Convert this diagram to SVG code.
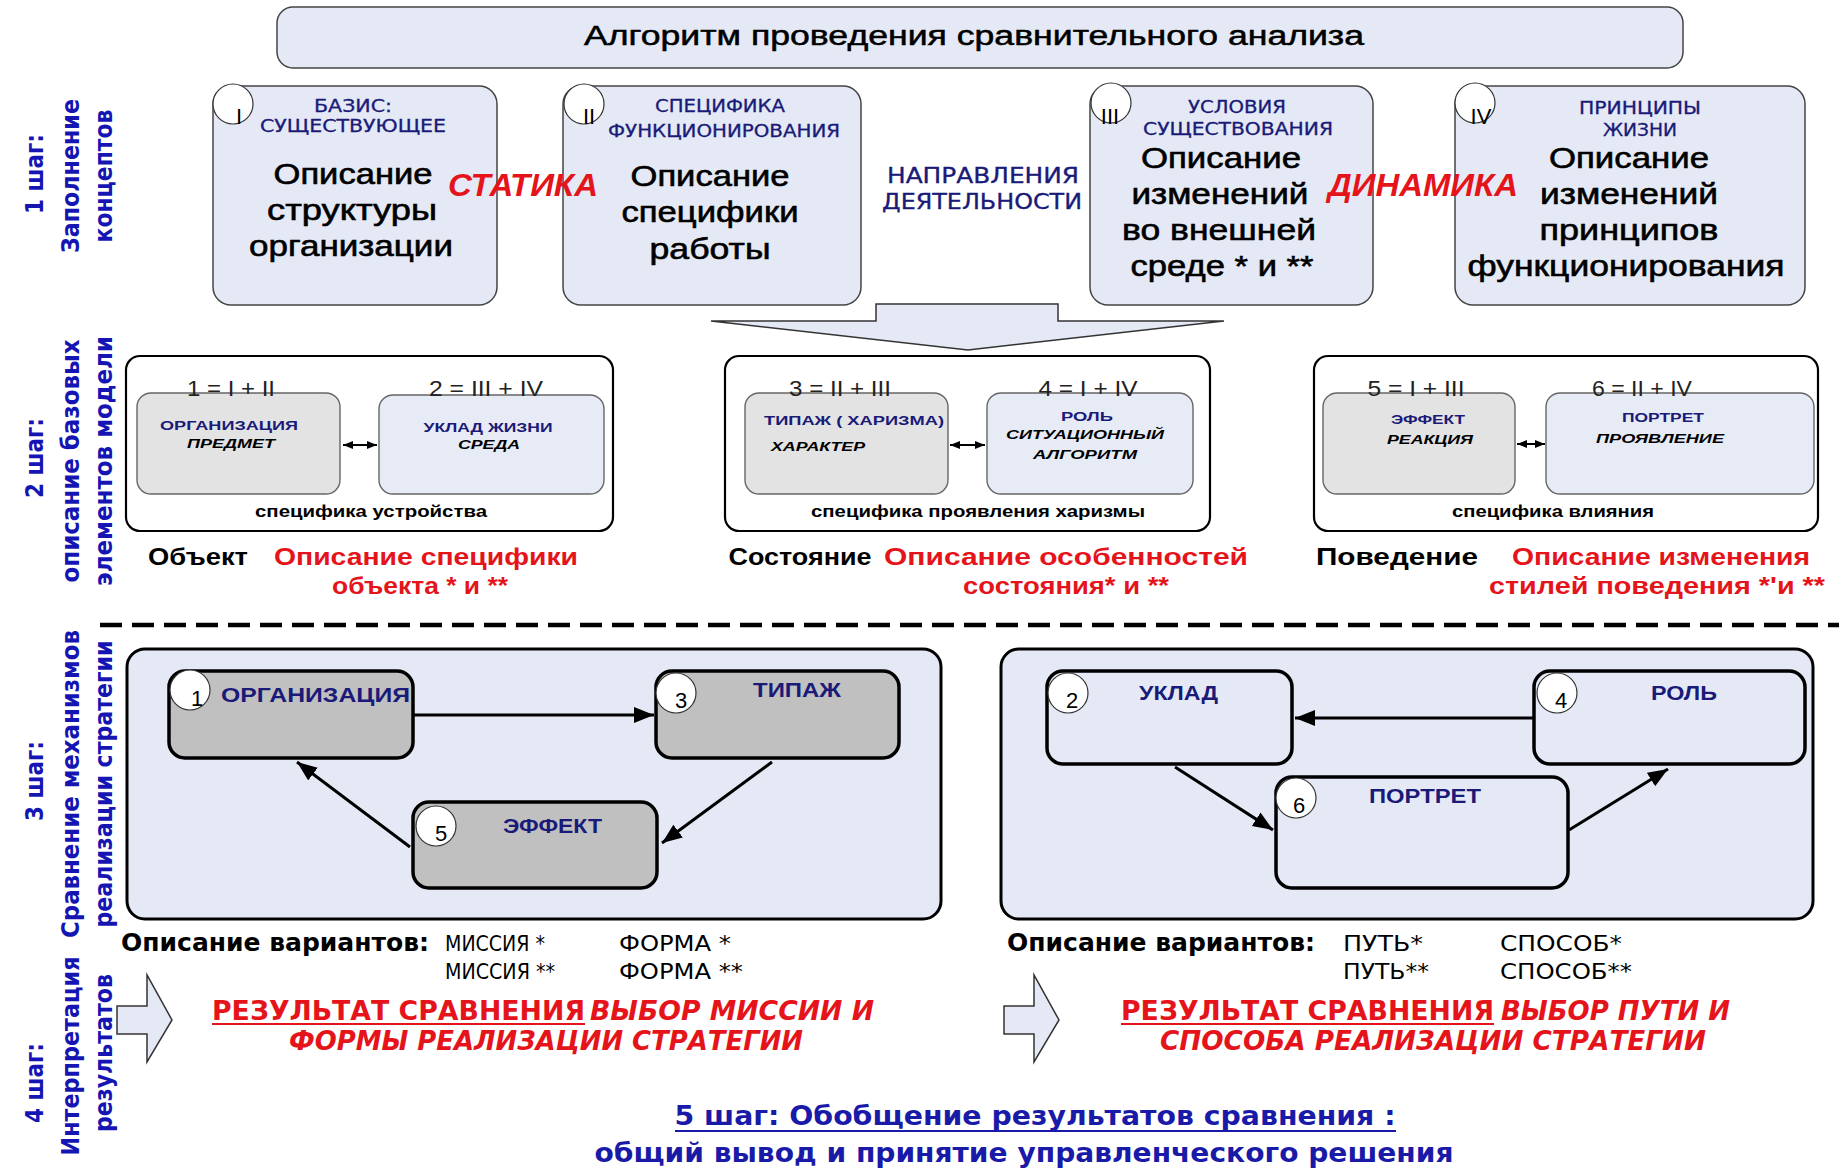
<svg xmlns="http://www.w3.org/2000/svg" width="1839" height="1168" viewBox="0 0 1839 1168">
<style>
  .sans { font-family: "Liberation Sans", Arial, sans-serif; }
  .narrow { font-family: "Liberation Sans Narrow", "Arial Narrow", "DejaVu Sans Condensed", sans-serif; }
  .panel { fill: #e4e9f5; stroke: #444; stroke-width: 1.5; }
  .frame { fill: #fff; stroke: #000; stroke-width: 2.2; }
  .gbox { fill: #e3e3e3; stroke: #666; stroke-width: 1.4; }
  .bbox { fill: #e6ebf6; stroke: #666; stroke-width: 1.4; }
  .bigframe { fill: #e4e9f5; stroke: #000; stroke-width: 3; }
  .gnode { fill: #c0c0c0; stroke: #000; stroke-width: 3.5; }
  .bnode { fill: #e4e9f5; stroke: #000; stroke-width: 3.5; }
  .badge { fill: #fff; stroke: #333; stroke-width: 1.2; }
  .ttl { font-size: 27px; fill: #000; stroke: #000; stroke-width: 0.5; }
  .hdr { font-size: 18px; fill: #1a1a78; stroke: #1a1a78; stroke-width: 0.3; }
  .body { font-size: 30px; fill: #000; stroke: #000; stroke-width: 0.6; }
  .accent { font-size: 31px; font-weight: bold; font-style: italic; fill: #e5141b; }
  .dir { font-size: 21px; fill: #1a1a78; stroke: #1a1a78; stroke-width: 0.3; }
  .roman { font-size: 22px; fill: #000; }
  .formula { font-size: 22px; fill: #222; }
  .btitle { font-size: 13px; font-weight: bold; fill: #1a1a78; }
  .bsub { font-size: 13px; font-weight: bold; font-style: italic; fill: #000; }
  .spec { font-size: 16px; font-weight: bold; fill: #000; }
  .kind { font-size: 24px; font-weight: bold; fill: #000; }
  .kdesc { font-size: 24px; font-weight: bold; fill: #e5141b; }
  .ntext { font-size: 20px; font-weight: bold; fill: #1a1a78; }
  .num { font-size: 22px; fill: #000; }
  .var { font-size: 24px; font-weight: bold; fill: #000; }
  .varv { font-size: 21px; fill: #000; }
  .res { font-size: 26px; font-weight: bold; fill: #e5141b; }
  .resi { font-size: 26px; font-weight: bold; font-style: italic; fill: #e5141b; }
  .step { font-size: 24px; font-weight: bold; fill: #1515b4; }
  .s5 { font-size: 26px; font-weight: bold; fill: #1a1aa8; }
  .edge { stroke: #000; stroke-width: 3; fill: none; }
  .link { stroke: #000; stroke-width: 2; fill: none; }
  .blockarrow { fill: #e4e9f5; stroke: #333; stroke-width: 1.5; }
</style>
<defs>
  <marker id="head" markerUnits="userSpaceOnUse" markerWidth="22" markerHeight="18" refX="20" refY="8" orient="auto">
    <path d="M0,0 L20,8 L0,16 z" fill="#000"/>
  </marker>
  <marker id="tip" markerUnits="userSpaceOnUse" markerWidth="12" markerHeight="10" refX="10" refY="4" orient="auto-start-reverse">
    <path d="M0,0 L10,4 L0,8 z" fill="#000"/>
  </marker>
</defs>

<rect width="1839" height="1168" fill="#fff"/>

<!-- side labels for the steps -->
<g id="step-labels" class="narrow">
  <text class="step" transform="rotate(-90 43 174)" x="43" y="174" text-anchor="middle">1 шаг:</text>
  <text class="step" transform="rotate(-90 79 176)" x="79" y="176" text-anchor="middle" textLength="154" lengthAdjust="spacingAndGlyphs">Заполнение</text>
  <text class="step" transform="rotate(-90 112 176)" x="112" y="176" text-anchor="middle" textLength="133" lengthAdjust="spacingAndGlyphs">концептов</text>

  <text class="step" transform="rotate(-90 43 458)" x="43" y="458" text-anchor="middle">2 шаг:</text>
  <text class="step" transform="rotate(-90 79 461)" x="79" y="461" text-anchor="middle" textLength="243" lengthAdjust="spacingAndGlyphs">описание базовых</text>
  <text class="step" transform="rotate(-90 112 461)" x="112" y="461" text-anchor="middle" textLength="250" lengthAdjust="spacingAndGlyphs">элементов модели</text>

  <text class="step" transform="rotate(-90 43 781)" x="43" y="781" text-anchor="middle">3 шаг:</text>
  <text class="step" transform="rotate(-90 79 784)" x="79" y="784" text-anchor="middle" textLength="308" lengthAdjust="spacingAndGlyphs">Сравнение механизмов</text>
  <text class="step" transform="rotate(-90 112 784)" x="112" y="784" text-anchor="middle" textLength="287" lengthAdjust="spacingAndGlyphs">реализации стратегии</text>

  <text class="step" transform="rotate(-90 43 1083)" x="43" y="1083" text-anchor="middle">4 шаг:</text>
  <text class="step" transform="rotate(-90 79 1056)" x="79" y="1056" text-anchor="middle" textLength="199" lengthAdjust="spacingAndGlyphs">Интерпретация</text>
  <text class="step" transform="rotate(-90 112 1053)" x="112" y="1053" text-anchor="middle" textLength="158" lengthAdjust="spacingAndGlyphs">результатов</text>
</g>

<!-- heading -->
<g id="title">
  <rect class="panel" x="277" y="7" width="1406" height="61" rx="16"/>
  <text class="sans ttl" x="974" y="45" text-anchor="middle" textLength="780" lengthAdjust="spacingAndGlyphs">Алгоритм проведения сравнительного анализа</text>
</g>

<!-- step 1: four concepts -->
<g id="concept-1">
  <rect class="panel" x="213" y="86" width="284" height="219" rx="18"/>
  <circle class="badge" cx="233" cy="104" r="20"/>
  <text class="sans roman" x="239" y="124" text-anchor="middle">I</text>
  <text class="narrow hdr" x="353" y="112" text-anchor="middle" textLength="78" lengthAdjust="spacingAndGlyphs">БАЗИС:</text>
  <text class="narrow hdr" x="353" y="132" text-anchor="middle" textLength="186" lengthAdjust="spacingAndGlyphs">СУЩЕСТВУЮЩЕЕ</text>
  <text class="sans body" x="353" y="184" text-anchor="middle" textLength="159" lengthAdjust="spacingAndGlyphs">Описание</text>
  <text class="sans body" x="352" y="220" text-anchor="middle" textLength="170" lengthAdjust="spacingAndGlyphs">структуры</text>
  <text class="sans body" x="351" y="256" text-anchor="middle" textLength="204" lengthAdjust="spacingAndGlyphs">организации</text>
</g>
<g id="concept-2">
  <rect class="panel" x="563" y="86" width="298" height="219" rx="18"/>
  <circle class="badge" cx="584" cy="104" r="20"/>
  <text class="sans roman" x="589" y="124" text-anchor="middle">II</text>
  <text class="narrow hdr" x="720" y="112" text-anchor="middle" textLength="130" lengthAdjust="spacingAndGlyphs">СПЕЦИФИКА</text>
  <text class="narrow hdr" x="724" y="137" text-anchor="middle" textLength="232" lengthAdjust="spacingAndGlyphs">ФУНКЦИОНИРОВАНИЯ</text>
  <text class="sans body" x="710" y="186" text-anchor="middle" textLength="159" lengthAdjust="spacingAndGlyphs">Описание</text>
  <text class="sans body" x="710" y="222" text-anchor="middle" textLength="177" lengthAdjust="spacingAndGlyphs">специфики</text>
  <text class="sans body" x="710" y="259" text-anchor="middle" textLength="121" lengthAdjust="spacingAndGlyphs">работы</text>
</g>
<g id="concept-3">
  <rect class="panel" x="1090" y="86" width="283" height="219" rx="18"/>
  <circle class="badge" cx="1111" cy="103" r="20"/>
  <text class="sans roman" x="1110" y="124" text-anchor="middle">III</text>
  <text class="narrow hdr" x="1237" y="113" text-anchor="middle" textLength="98" lengthAdjust="spacingAndGlyphs">УСЛОВИЯ</text>
  <text class="narrow hdr" x="1238" y="135" text-anchor="middle" textLength="190" lengthAdjust="spacingAndGlyphs">СУЩЕСТВОВАНИЯ</text>
  <text class="sans body" x="1221" y="168" text-anchor="middle" textLength="160" lengthAdjust="spacingAndGlyphs">Описание</text>
  <text class="sans body" x="1220" y="204" text-anchor="middle" textLength="177" lengthAdjust="spacingAndGlyphs">изменений</text>
  <text class="sans body" x="1219" y="240" text-anchor="middle" textLength="194" lengthAdjust="spacingAndGlyphs">во внешней</text>
  <text class="sans body" x="1222" y="276" text-anchor="middle" textLength="183" lengthAdjust="spacingAndGlyphs">среде * и **</text>
</g>
<g id="concept-4">
  <rect class="panel" x="1455" y="86" width="350" height="219" rx="18"/>
  <circle class="badge" cx="1475" cy="103" r="20"/>
  <text class="sans roman" x="1481" y="124" text-anchor="middle">IV</text>
  <text class="narrow hdr" x="1640" y="114" text-anchor="middle" textLength="122" lengthAdjust="spacingAndGlyphs">ПРИНЦИПЫ</text>
  <text class="narrow hdr" x="1640" y="136" text-anchor="middle" textLength="74" lengthAdjust="spacingAndGlyphs">ЖИЗНИ</text>
  <text class="sans body" x="1629" y="168" text-anchor="middle" textLength="160" lengthAdjust="spacingAndGlyphs">Описание</text>
  <text class="sans body" x="1629" y="204" text-anchor="middle" textLength="178" lengthAdjust="spacingAndGlyphs">изменений</text>
  <text class="sans body" x="1629" y="240" text-anchor="middle" textLength="179" lengthAdjust="spacingAndGlyphs">принципов</text>
  <text class="sans body" x="1626" y="276" text-anchor="middle" textLength="317" lengthAdjust="spacingAndGlyphs">функционирования</text>
</g>

<g id="step1-captions">
  <text class="sans accent" x="523" y="196" text-anchor="middle" textLength="150" lengthAdjust="spacingAndGlyphs">СТАТИКА</text>
  <text class="sans accent" x="1423" y="196" text-anchor="middle" textLength="190" lengthAdjust="spacingAndGlyphs">ДИНАМИКА</text>
  <text class="narrow dir" x="983" y="183" text-anchor="middle" textLength="192" lengthAdjust="spacingAndGlyphs">НАПРАВЛЕНИЯ</text>
  <text class="narrow dir" x="982" y="209" text-anchor="middle" textLength="200" lengthAdjust="spacingAndGlyphs">ДЕЯТЕЛЬНОСТИ</text>
</g>

<!-- wide arrow from the concepts down to the model -->
<g id="down-arrow">
  <path class="blockarrow" d="M711,321 L876,321 L876,304 L1058,304 L1058,321 L1224,321 L968,350 Z"/>
</g>

<!-- step 2: base elements of the model -->
<g id="element-object">
  <rect class="frame" x="126" y="356" width="487" height="175" rx="14"/>
  <rect class="gbox" x="137" y="393" width="203" height="101" rx="14"/>
  <rect class="bbox" x="379" y="395" width="225" height="99" rx="14"/>
  <text class="sans formula" x="231" y="396" text-anchor="middle" textLength="88" lengthAdjust="spacingAndGlyphs">1 = I + II</text>
  <text class="sans formula" x="486" y="396" text-anchor="middle" textLength="114" lengthAdjust="spacingAndGlyphs">2 = III + IV</text>
  <text class="sans btitle" x="229" y="430" text-anchor="middle" textLength="138" lengthAdjust="spacingAndGlyphs">ОРГАНИЗАЦИЯ</text>
  <text class="sans bsub" x="231" y="448" text-anchor="middle" textLength="88" lengthAdjust="spacingAndGlyphs">ПРЕДМЕТ</text>
  <text class="sans btitle" x="488" y="432" text-anchor="middle" textLength="129" lengthAdjust="spacingAndGlyphs">УКЛАД ЖИЗНИ</text>
  <text class="sans bsub" x="489" y="449" text-anchor="middle" textLength="62" lengthAdjust="spacingAndGlyphs">СРЕДА</text>
  <text class="sans spec" x="371" y="517" text-anchor="middle" textLength="232" lengthAdjust="spacingAndGlyphs">специфика устройства</text>
  <text class="sans kind" x="198" y="565" text-anchor="middle" textLength="100" lengthAdjust="spacingAndGlyphs">Объект</text>
  <text class="sans kdesc" x="426" y="565" text-anchor="middle" textLength="304" lengthAdjust="spacingAndGlyphs">Описание специфики</text>
  <text class="sans kdesc" x="420" y="594" text-anchor="middle" textLength="176" lengthAdjust="spacingAndGlyphs">объекта * и **</text>
</g>
<g id="element-state">
  <rect class="frame" x="725" y="356" width="485" height="175" rx="14"/>
  <rect class="gbox" x="745" y="393" width="203" height="101" rx="14"/>
  <rect class="bbox" x="987" y="393" width="206" height="101" rx="14"/>
  <text class="sans formula" x="840" y="396" text-anchor="middle" textLength="102" lengthAdjust="spacingAndGlyphs">3 = II + III</text>
  <text class="sans formula" x="1088" y="396" text-anchor="middle" textLength="99" lengthAdjust="spacingAndGlyphs">4 = I + IV</text>
  <text class="sans btitle" x="764" y="425" textLength="180" lengthAdjust="spacingAndGlyphs">ТИПАЖ ( ХАРИЗМА)</text>
  <text class="sans bsub" x="771" y="451" textLength="94" lengthAdjust="spacingAndGlyphs">ХАРАКТЕР</text>
  <text class="sans btitle" x="1087" y="421" text-anchor="middle" textLength="52" lengthAdjust="spacingAndGlyphs">РОЛЬ</text>
  <text class="sans bsub" x="1085" y="439" text-anchor="middle" textLength="158" lengthAdjust="spacingAndGlyphs">СИТУАЦИОННЫЙ</text>
  <text class="sans bsub" x="1085" y="459" text-anchor="middle" textLength="104" lengthAdjust="spacingAndGlyphs">АЛГОРИТМ</text>
  <text class="sans spec" x="978" y="517" text-anchor="middle" textLength="334" lengthAdjust="spacingAndGlyphs">специфика проявления харизмы</text>
  <text class="sans kind" x="800" y="565" text-anchor="middle" textLength="143" lengthAdjust="spacingAndGlyphs">Состояние</text>
  <text class="sans kdesc" x="1066" y="565" text-anchor="middle" textLength="364" lengthAdjust="spacingAndGlyphs">Описание особенностей</text>
  <text class="sans kdesc" x="1066" y="594" text-anchor="middle" textLength="206" lengthAdjust="spacingAndGlyphs">состояния* и **</text>
</g>
<g id="element-behaviour">
  <rect class="frame" x="1314" y="356" width="504" height="175" rx="14"/>
  <rect class="gbox" x="1323" y="393" width="192" height="101" rx="14"/>
  <rect class="bbox" x="1546" y="393" width="268" height="101" rx="14"/>
  <text class="sans formula" x="1416" y="396" text-anchor="middle" textLength="97" lengthAdjust="spacingAndGlyphs">5 = I + III</text>
  <text class="sans formula" x="1642" y="396" text-anchor="middle" textLength="100" lengthAdjust="spacingAndGlyphs">6 = II + IV</text>
  <text class="sans btitle" x="1428" y="424" text-anchor="middle" textLength="74" lengthAdjust="spacingAndGlyphs">ЭФФЕКТ</text>
  <text class="sans bsub" x="1430" y="444" text-anchor="middle" textLength="86" lengthAdjust="spacingAndGlyphs">РЕАКЦИЯ</text>
  <text class="sans btitle" x="1663" y="422" text-anchor="middle" textLength="82" lengthAdjust="spacingAndGlyphs">ПОРТРЕТ</text>
  <text class="sans bsub" x="1660" y="443" text-anchor="middle" textLength="128" lengthAdjust="spacingAndGlyphs">ПРОЯВЛЕНИЕ</text>
  <text class="sans spec" x="1553" y="517" text-anchor="middle" textLength="202" lengthAdjust="spacingAndGlyphs">специфика влияния</text>
  <text class="sans kind" x="1397" y="565" text-anchor="middle" textLength="162" lengthAdjust="spacingAndGlyphs">Поведение</text>
  <text class="sans kdesc" x="1661" y="565" text-anchor="middle" textLength="298" lengthAdjust="spacingAndGlyphs">Описание изменения</text>
  <text class="sans kdesc" x="1657" y="594" text-anchor="middle" textLength="336" lengthAdjust="spacingAndGlyphs">стилей поведения *'и **</text>
</g>

<!-- divider between analysis and comparison -->
<line x1="100" y1="625" x2="1839" y2="625" stroke="#000" stroke-width="4.5" stroke-dasharray="22 10"/>

<!-- step 3: comparison frames -->
<g id="cycle-left-frame">
  <rect class="bigframe" x="127" y="649" width="814" height="270" rx="18"/>
</g>
<g id="cycle-right-frame">
  <rect class="bigframe" x="1001" y="649" width="812" height="270" rx="18"/>
</g>

<g id="node-organizatsiya">
  <rect class="gnode" x="169" y="671" width="244" height="87" rx="16"/>
  <circle class="badge" cx="190" cy="690" r="20"/>
  <text class="sans num" x="197" y="706" text-anchor="middle">1</text>
  <text class="sans ntext" x="221" y="702" textLength="189" lengthAdjust="spacingAndGlyphs">ОРГАНИЗАЦИЯ</text>
</g>
<g id="node-tipazh">
  <rect class="gnode" x="656" y="671" width="243" height="87" rx="16"/>
  <circle class="badge" cx="676" cy="693" r="20"/>
  <text class="sans num" x="681" y="708" text-anchor="middle">3</text>
  <text class="sans ntext" x="753" y="697" textLength="88" lengthAdjust="spacingAndGlyphs">ТИПАЖ</text>
</g>
<g id="node-effekt">
  <rect class="gnode" x="413" y="802" width="244" height="86" rx="16"/>
  <circle class="badge" cx="436" cy="826" r="20"/>
  <text class="sans num" x="441" y="841" text-anchor="middle">5</text>
  <text class="sans ntext" x="503" y="833" textLength="99" lengthAdjust="spacingAndGlyphs">ЭФФЕКТ</text>
</g>
<g id="node-uklad">
  <rect class="bnode" x="1047" y="671" width="245" height="93" rx="16"/>
  <circle class="badge" cx="1068" cy="693" r="20"/>
  <text class="sans num" x="1072" y="708" text-anchor="middle">2</text>
  <text class="sans ntext" x="1139" y="700" textLength="79" lengthAdjust="spacingAndGlyphs">УКЛАД</text>
</g>
<g id="node-rol">
  <rect class="bnode" x="1534" y="671" width="271" height="93" rx="16"/>
  <circle class="badge" cx="1557" cy="693" r="20"/>
  <text class="sans num" x="1561" y="708" text-anchor="middle">4</text>
  <text class="sans ntext" x="1651" y="700" textLength="66" lengthAdjust="spacingAndGlyphs">РОЛЬ</text>
</g>
<g id="node-portret">
  <rect class="bnode" x="1276" y="777" width="292" height="111" rx="16"/>
  <circle class="badge" cx="1296" cy="798" r="20"/>
  <text class="sans num" x="1299" y="813" text-anchor="middle">6</text>
  <text class="sans ntext" x="1369" y="803" textLength="112" lengthAdjust="spacingAndGlyphs">ПОРТРЕТ</text>
</g>

<g id="connectors">
  <line class="link" x1="343" y1="445" x2="377" y2="445" marker-start="url(#tip)" marker-end="url(#tip)"/>
  <line class="link" x1="950" y1="445" x2="985" y2="445" marker-start="url(#tip)" marker-end="url(#tip)"/>
  <line class="link" x1="1517" y1="444" x2="1545" y2="444" marker-start="url(#tip)" marker-end="url(#tip)"/>
  <path class="edge" d="M413,715 L654,715" marker-end="url(#head)"/>
  <path class="edge" d="M772,762 L662,843" marker-end="url(#head)"/>
  <path class="edge" d="M410,847 L297,762" marker-end="url(#head)"/>
  <path class="edge" d="M1534,718 L1295,718" marker-end="url(#head)"/>
  <path class="edge" d="M1175,767 L1273,830" marker-end="url(#head)"/>
  <path class="edge" d="M1569,830 L1668,769" marker-end="url(#head)"/>
</g>

<!-- option lists under the frames -->
<g id="variants-left" class="narrow">
  <text class="var" x="121" y="951" textLength="308" lengthAdjust="spacingAndGlyphs">Описание вариантов:</text>
  <text class="varv" x="445" y="951" textLength="100" lengthAdjust="spacingAndGlyphs">МИССИЯ *</text>
  <text class="varv" x="619" y="951" textLength="112" lengthAdjust="spacingAndGlyphs">ФОРМА *</text>
  <text class="varv" x="445" y="979" textLength="110" lengthAdjust="spacingAndGlyphs">МИССИЯ **</text>
  <text class="varv" x="619" y="979" textLength="124" lengthAdjust="spacingAndGlyphs">ФОРМА **</text>
</g>
<g id="variants-right" class="narrow">
  <text class="var" x="1007" y="951" textLength="308" lengthAdjust="spacingAndGlyphs">Описание вариантов:</text>
  <text class="varv" x="1343" y="951" textLength="80" lengthAdjust="spacingAndGlyphs">ПУТЬ*</text>
  <text class="varv" x="1500" y="951" textLength="122" lengthAdjust="spacingAndGlyphs">СПОСОБ*</text>
  <text class="varv" x="1343" y="979" textLength="86" lengthAdjust="spacingAndGlyphs">ПУТЬ**</text>
  <text class="varv" x="1500" y="979" textLength="132" lengthAdjust="spacingAndGlyphs">СПОСОБ**</text>
</g>

<!-- step 4: results -->
<g id="result-left">
  <path class="blockarrow" d="M117,1006 L147,1006 L147,975 L172,1020 L147,1062 L147,1034 L117,1034 Z"/>
  <text class="narrow res" x="212" y="1020" textLength="373" lengthAdjust="spacingAndGlyphs">РЕЗУЛЬТАТ СРАВНЕНИЯ</text>
  <line x1="212" y1="1024" x2="585" y2="1024" stroke="#e5141b" stroke-width="2.2"/>
  <text class="narrow resi" x="590" y="1020" textLength="284" lengthAdjust="spacingAndGlyphs">ВЫБОР МИССИИ И</text>
  <text class="narrow resi" x="546" y="1050" text-anchor="middle" textLength="514" lengthAdjust="spacingAndGlyphs">ФОРМЫ РЕАЛИЗАЦИИ СТРАТЕГИИ</text>
</g>
<g id="result-right">
  <path class="blockarrow" d="M1004,1006 L1034,1006 L1034,975 L1059,1020 L1034,1062 L1034,1034 L1004,1034 Z"/>
  <text class="narrow res" x="1121" y="1020" textLength="373" lengthAdjust="spacingAndGlyphs">РЕЗУЛЬТАТ СРАВНЕНИЯ</text>
  <line x1="1121" y1="1024" x2="1494" y2="1024" stroke="#e5141b" stroke-width="2.2"/>
  <text class="narrow resi" x="1501" y="1020" textLength="229" lengthAdjust="spacingAndGlyphs">ВЫБОР ПУТИ И</text>
  <text class="narrow resi" x="1433" y="1050" text-anchor="middle" textLength="546" lengthAdjust="spacingAndGlyphs">СПОСОБА РЕАЛИЗАЦИИ СТРАТЕГИИ</text>
</g>

<!-- step 5: summary -->
<g id="summary" class="narrow">
  <text class="s5" x="1035" y="1125" text-anchor="middle" textLength="721" lengthAdjust="spacingAndGlyphs">5 шаг: Обобщение результатов сравнения  :</text>
  <line x1="675" y1="1131" x2="1396" y2="1131" stroke="#1a1aa8" stroke-width="2.2"/>
  <text class="s5" x="1024" y="1162" text-anchor="middle" textLength="859" lengthAdjust="spacingAndGlyphs">общий вывод и принятие управленческого решения</text>
</g>
</svg>
